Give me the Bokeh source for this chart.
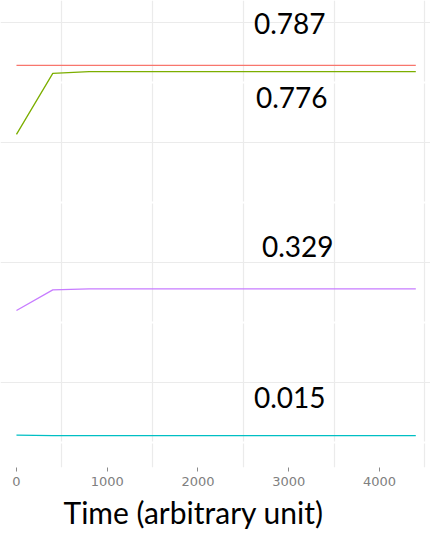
from bokeh.plotting import figure
from bokeh.models import Range1d, FixedTicker, ColumnDataSource, Title
from bokeh.core.properties import value
from bokeh.embed import file_html
from bokeh.resources import INLINE

# ---- data ----
time = [0, 400, 800, 1200, 1600, 2000, 2400, 2800, 3200, 3600, 4000, 4400]
red = [0.786, 0.786, 0.786, 0.786, 0.786, 0.786, 0.786, 0.786, 0.786, 0.786, 0.786, 0.786]
green = [0.642, 0.769, 0.773, 0.773, 0.773, 0.773, 0.773, 0.773, 0.773, 0.773, 0.773, 0.773]
purple = [0.275, 0.318, 0.320, 0.320, 0.320, 0.320, 0.320, 0.320, 0.320, 0.320, 0.320, 0.320]
teal = [0.0156, 0.0146, 0.0146, 0.0146, 0.0146, 0.0146, 0.0146, 0.0146, 0.0146, 0.0146, 0.0146, 0.0146]
label_texts = ["0.787", "0.776", "0.329", "0.015"]
label_time = [3000, 3000, 3000, 3000]
x_ticks = [0, 1000, 2000, 3000, 4000]
x_minor = [500, 1500, 2500, 3500, 4500]
y_major = [0, 0.25, 0.5, 0.75]
y_minor = [0.125, 0.375, 0.625, 0.875]
x_title = "Time (arbitrary unit)"

series = [red, green, purple, teal]
colors = ["#F8766D", "#7CAE00", "#C77CFF", "#00BFC4"]

p = figure(width=430, height=533, output_backend="svg", toolbar_location=None,
           x_range=Range1d(-176, 4562), y_range=Range1d(-0.052, 0.921),
           y_axis_location=None, min_border_left=0, min_border_right=0,
           min_border_top=0, min_border_bottom=0)
p.outline_line_color = None
p.background_fill_color = "white"

# grids: light grey minor lines, white major lines on top
p.xgrid.ticker = FixedTicker(ticks=x_ticks, minor_ticks=x_minor)
p.ygrid.ticker = FixedTicker(ticks=y_major, minor_ticks=y_minor)
for g in (p.xgrid, p.ygrid):
    g.grid_line_color = "white"
    g.grid_line_width = 2
    g.minor_grid_line_color = "#ebebeb"
    g.minor_grid_line_width = 1.2

for ys, c in zip(series, colors):
    p.line(time, ys, line_color=c, line_width=1.3)

# value labels anchored on each series' plateau
last_vals = [s[-1] for s in series]
src = ColumnDataSource(dict(x=label_time, y=last_vals, t=label_texts,
                            xo=[1, 3, 9, 1], yo=[-42, 26, -42, -38]))
p.text(x="x", y="y", text="t", x_offset="xo", y_offset="yo", source=src,
       text_font=value("Lato"), text_font_size="28px", text_color="black",
       text_align="center", text_baseline="middle")

ax = p.xaxis[0]
ax.ticker = FixedTicker(ticks=x_ticks, minor_ticks=[])
ax.axis_line_color = None
ax.major_tick_line_color = "#8a8a8a"
ax.major_tick_in = 0
ax.major_tick_out = 4
ax.minor_tick_line_color = None
ax.major_label_text_font = "DejaVu Sans"
ax.major_label_text_font_size = "13px"
ax.major_label_text_color = "#808080"
ax.major_label_standoff = 5

# axis title (sits left of centre in the reference)
p.add_layout(Title(text=x_title, align="left", offset=63, standoff=7,
                   text_font="Lato", text_font_size="30px", text_font_style="normal",
                   text_color="black"), "below")

open("out.html", "w").write(file_html(p, INLINE))
